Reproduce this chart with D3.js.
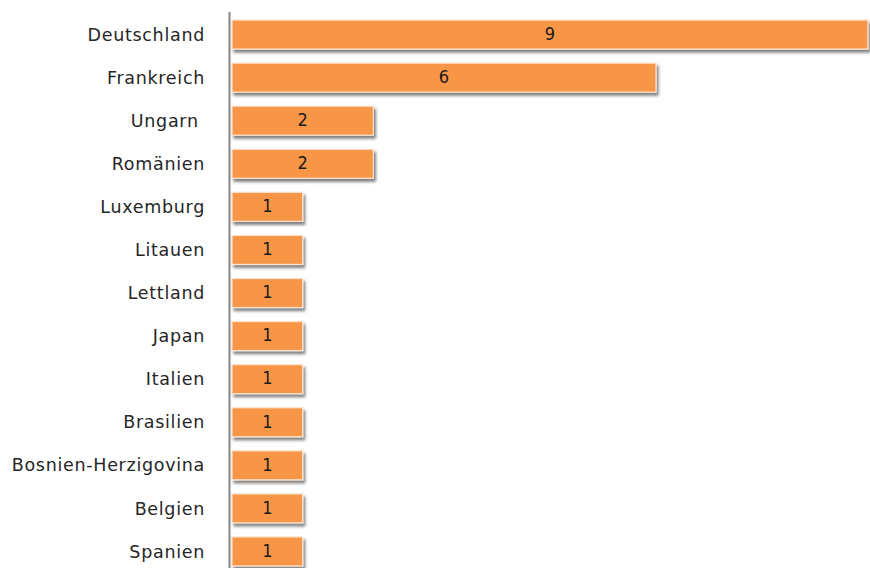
<!DOCTYPE html>
<html><head><meta charset="utf-8">
<script src="https://cdn.jsdelivr.net/npm/d3@7"></script>
<style>
html,body{margin:0;padding:0;background:#fff;}
svg{display:block;}
</style></head>
<body>
<svg id="chart" width="870" height="568"></svg>
<script>
const categories = ["Deutschland","Frankreich","Ungarn ","Romänien","Luxemburg","Litauen","Lettland","Japan","Italien","Brasilien","Bosnien-Herzigovina","Belgien","Spanien"];
const values = [9,6,2,2,1,1,1,1,1,1,1,1,1];
const data = categories.map((c,i)=>({c, v: values[i]}));

const svg = d3.select("#chart");
const x = d3.scaleLinear().domain([0, 9]).range([232, 868]);
const y = d3.scaleBand().domain(categories).range([13, 573]).paddingInner(0.327).paddingOuter(0.1635);

const defs = svg.append("defs");
const f = defs.append("filter").attr("id","sh").attr("x","-10%").attr("y","-30%").attr("width","130%").attr("height","190%");
f.append("feGaussianBlur").attr("in","SourceAlpha").attr("stdDeviation",1.6).attr("result","b");
f.append("feOffset").attr("in","b").attr("dx",2).attr("dy",3).attr("result","o");
f.append("feComponentTransfer").attr("in","o").attr("result","o2")
  .append("feFuncA").attr("type","linear").attr("slope",0.5);
const m = f.append("feMerge");
m.append("feMergeNode").attr("in","o2");
m.append("feMergeNode").attr("in","SourceGraphic");

svg.append("g").selectAll("rect").data(data).join("rect")
  .attr("x", x(0))
  .attr("y", d => y(d.c))
  .attr("width", d => x(d.v) - x(0))
  .attr("height", y.bandwidth())
  .attr("fill", "#F79646")
  .attr("stroke", "#FCE3CF")
  .attr("stroke-width", 1.2)
  .attr("filter", "url(#sh)");

svg.append("line")
  .attr("x1", 229.5).attr("x2", 229.5)
  .attr("y1", 12).attr("y2", 568)
  .attr("stroke", "#868686").attr("stroke-width", 2);

svg.append("g").selectAll("text").data(data).join("text")
  .attr("x", 205)
  .attr("y", d => y(d.c) + y.bandwidth()/2)
  .attr("dy", "0.35em")
  .attr("text-anchor", "end")
  .style("white-space", "pre")
  .attr("font-family", "DejaVu Sans")
  .attr("font-size", 17.5)
  .attr("letter-spacing", 0.7)
  .attr("fill", "#262626")
  .text(d => d.c);

svg.append("g").selectAll("text").data(data).join("text")
  .attr("x", d => (x(0) + x(d.v))/2)
  .attr("y", d => y(d.c) + y.bandwidth()/2 - 1)
  .attr("dy", "0.35em")
  .attr("text-anchor", "middle")
  .attr("font-family", "DejaVu Sans Condensed, DejaVu Sans")
  .attr("font-stretch", "condensed")
  .attr("font-size", 18)
  .attr("fill", "#1a1a1a")
  .text(d => d.v);
</script>
</body></html>
